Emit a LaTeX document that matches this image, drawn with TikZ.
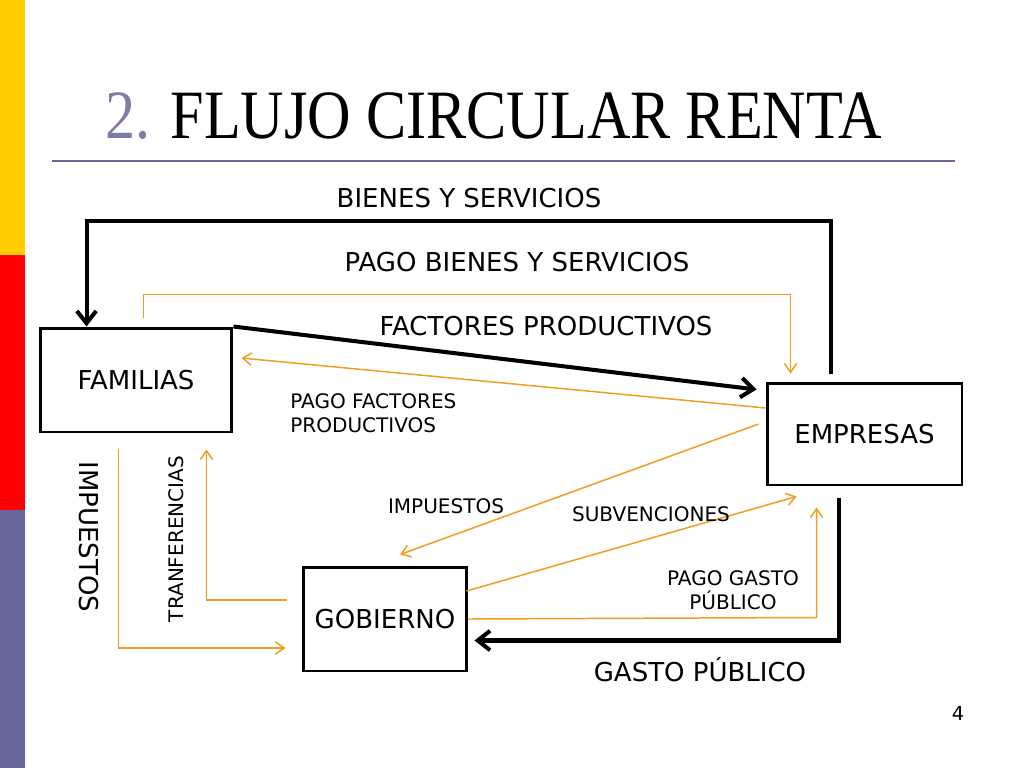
\documentclass[tikz,border=0pt]{standalone}
\usepackage{fontspec}
\setmainfont{DejaVu Sans}
\newfontfamily\titlefont[FakeStretch=0.87]{Liberation Serif}
\usetikzlibrary{arrows.meta}
\usetikzlibrary{calc}

\definecolor{amarillo}{RGB}{255,204,0}
\definecolor{rojo}{RGB}{255,0,0}
\definecolor{pizarra}{RGB}{102,102,153}
\definecolor{naranja}{RGB}{243,156,35}

\newcommand{\grande}{\fontsize{14.8}{17}\selectfont}
\newcommand{\chica}{\fontsize{11.4}{14}\selectfont}

\begin{document}
\begin{tikzpicture}[x=0.02cm, y=-0.02cm,
sector/.style={draw=black, line width=1.7pt, inner sep=0pt, font=\grande},
etiqueta/.style={inner sep=0pt, font=\grande},
nota/.style={inner sep=0pt, font=\chica},
real/.style={line width=2.3pt, -{Straight Barb[length=7pt, width=11pt]}},
dinero/.style={naranja, line width=0.85pt, -{Straight Barb[length=5pt, width=7pt]}}]

\useasboundingbox (0,0) rectangle (1024,768);

%%%%%% FONDO %%%%%%%%%%

\fill [amarillo] (0,0) rectangle (25,255);
\fill [rojo] (0,255) rectangle (25,510);
\fill [pizarra] (0,510) rectangle (25,768);

\node (titulo) [anchor=base west, inner sep=0pt] at (105,138)
  {\fontsize{39.4}{44}\selectfont\titlefont\textcolor{pizarra!85}{2.} FLUJO CIRCULAR RENTA};
\draw [pizarra, line width=1.7pt] (52,161) -- (955,161);

%%%%%% SECTORES %%%%%%%%%%

\node (familias) [sector, minimum width=3.84cm, minimum height=2.08cm] at (136,380) {FAMILIAS};
\node (empresas) [sector, minimum width=3.9cm, minimum height=2.04cm] at (864.5,434) {EMPRESAS};
\node (gobierno) [sector, minimum width=3.28cm, minimum height=2.08cm] at (385,619) {GOBIERNO};

%%%%%% FLUJOS REALES %%%%%%%%%%

\draw [real] ($(empresas.north west)+(65,-8)$) -- ++(0,-153) -| ($(familias.north west)+(48,0)$);
\draw [real] (familias.north east) -- ($(empresas.north west)+(-9,8)$);
\draw [real] ($(empresas.south west)+(73,12)$) |- ($(gobierno.south east)+(6,-32)$);

%%%%%% FLUJOS DE DINERO %%%%%%%%%%

\draw [dinero] ($(familias.north west)+(105,-9)$) -- ++(0,-23) -| ($(empresas.north west)+(25,-8)$);
\draw [dinero] ($(empresas.west)+(0,-26)$) -- ($(familias.east)+(8,-22)$);
\draw [dinero] ($(empresas.west)+(-7,-10)$) -- ($(gobierno.north)+(15,-11)$);
\draw [dinero] ($(gobierno.east)+(-2,-28)$) -- ($(empresas.south west)+(31,10)$);
\draw [dinero] (gobierno.east) -- ($(empresas.south west)+(51,131)$) -- ($(empresas.south west)+(51,21)$);
\draw [dinero] ($(familias.south west)+(80,16)$) |- ($(gobierno.west)+(-16,29)$);
\draw [dinero] ($(gobierno.west)+(-15,-19)$) -| ($(familias.south west)+(168,16)$);

%%%%%% ETIQUETAS %%%%%%%%%%

\node (bienes) [etiqueta] at (469,198) {BIENES Y SERVICIOS};
\node (pagobienes) [etiqueta] at (517,262) {PAGO BIENES Y SERVICIOS};
\node (factores) [etiqueta] at (546,326) {FACTORES PRODUCTIVOS};
\node (pagofactores) [nota, anchor=north west, align=left] at (290,393) {PAGO FACTORES\\PRODUCTIVOS};
\node (impemp) [nota] at (446,506) {IMPUESTOS};
\node (subv) [nota] at (651,514) {SUBVENCIONES};
\node (pagogasto) [nota, align=center] at (733,590) {PAGO GASTO\\PÚBLICO};
\node (gasto) [etiqueta] at (700,670) {GASTO PÚBLICO};
\node (impfam) [etiqueta, rotate=-90] at (89,537) {IMPUESTOS};
\node (transf) [nota, rotate=90] at (176,539) {TRANFERENCIAS};

\node (pagina) [inner sep=0pt, font=\fontsize{11}{13}\selectfont] at (958,713) {4};
\end{tikzpicture}
\end{document}
